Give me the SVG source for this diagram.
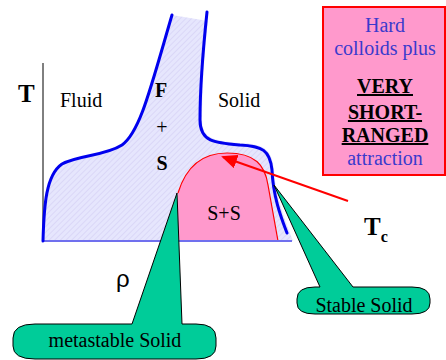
<svg xmlns="http://www.w3.org/2000/svg" width="446" height="360" viewBox="0 0 446 360">
<style>
text{font-family:'Liberation Serif','DejaVu Serif',serif}
.lbl{font-size:20px;fill:#000}
.bold{font-weight:bold}
.box{font-size:20px;fill:#3a3acc}
.boxb{font-size:20px;fill:#000;font-weight:bold;text-decoration:underline}
.call{fill:#00cc99;stroke:#000;stroke-width:1}
.curve{fill:none;stroke:#0000ee;stroke-width:3;stroke-linecap:round}
</style>
<defs>
<pattern id="hatch" width="4" height="4" patternUnits="userSpaceOnUse" patternTransform="rotate(45)">
<rect width="4" height="4" fill="#e6e6fd"/>
<line x1="0" y1="0" x2="0" y2="4" stroke="#d6d2f6" stroke-width="1.5"/>
</pattern>
<marker id="arr" markerWidth="16" markerHeight="14" refX="14" refY="7" orient="auto" markerUnits="userSpaceOnUse" viewBox="0 0 16 14">
<path d="M0,0 L16,7 L0,14 Z" fill="#ff0000"/>
</marker>
</defs>
<rect width="446" height="360" fill="#fff"/>

<g id="phase-diagram">
<path d="M43,241 C44,205 46,175 62,164 C78,155 105,156 122,145 C140,132 150,90 172,15 L208,21 C204,55 202,90 202,120 C202,140 217,141 240,143 C264,144 272,149 274,170 C275,195 285,220 293,241 Z" fill="url(#hatch)"/>
<path d="M178,193 C185,170 200,153 227,153 C255,153 265,165 268,185 L278,241 L178,241 Z" fill="#ff99cc"/>
<path d="M178,193 C185,170 200,153 227,153 C255,153 265,165 268,185 L278,241" fill="none" stroke="#ff0000" stroke-width="1.2"/>
<line x1="43" y1="63" x2="43" y2="241" stroke="#000" stroke-width="1"/>
<line x1="43" y1="241" x2="292" y2="241" stroke="#7070ee" stroke-width="2"/>
<path class="curve" d="M43,241 C44,205 46,175 62,164 C78,155 105,156 122,145 C140,132 150,90 172,15"/>
<path class="curve" d="M207,12 C203,50 200,90 200,120 C200,142 215,143 240,145 C262,146 270,150 272,170 C273,195 280,215 287,233"/>
</g>

<g id="labels">
<text x="18" y="102" class="bold" font-size="25">T</text>
<text x="60" y="107" class="lbl">Fluid</text>
<text x="218" y="107" class="lbl">Solid</text>
<text x="161" y="97" class="lbl bold" text-anchor="middle" font-size="18">F</text>
<text x="162" y="134" class="lbl" text-anchor="middle" font-size="18">+</text>
<text x="162" y="170" class="lbl bold" text-anchor="middle" font-size="18">S</text>
<text x="224" y="220" class="lbl" text-anchor="middle">S+S</text>
<text x="364" y="235" class="bold" font-size="25">T<tspan font-size="16" dy="7">c</tspan></text>
</g>
<text id="rho" x="116" y="287" style="font-family:'Liberation Sans',Arial,sans-serif" font-size="24">ρ</text>

<g id="info-box">
<rect x="323" y="7" width="122" height="168" fill="#ff99cc" stroke="#ff0000" stroke-width="2"/>
<g text-anchor="middle">
<text x="385" y="32" class="box">Hard</text>
<text x="385" y="55" class="box">colloids plus</text>
<text x="385" y="93" class="boxb">VERY</text>
<text x="385" y="119" class="boxb">SHORT-</text>
<text x="385" y="142" class="boxb">RANGED</text>
<text x="385" y="165" class="box">attraction</text>
</g>
</g>

<g id="connectors">
<line x1="348" y1="201" x2="223" y2="157" stroke="#ff0000" stroke-width="2" marker-end="url(#arr)"/>
</g>

<g id="metastable-callout">
<path class="call" d="M13,338 Q13,324 35,324 L132,324 L177,193 L182,324 L196,324 Q216,324 216,338 L216,346 Q216,359 196,359 L35,359 Q13,359 13,346 Z"/>
<text x="115" y="347" class="lbl" text-anchor="middle">metastable Solid</text>
</g>

<g id="stable-callout">
<path class="call" d="M297,299 Q297,287 315,287 L320,287 L274,185 L353,287 L412,287 Q430,287 430,299 L430,303 Q430,314 412,314 L315,314 Q297,314 297,303 Z"/>
<text x="364" y="312" class="lbl" text-anchor="middle">Stable Solid</text>
</g>
</svg>
